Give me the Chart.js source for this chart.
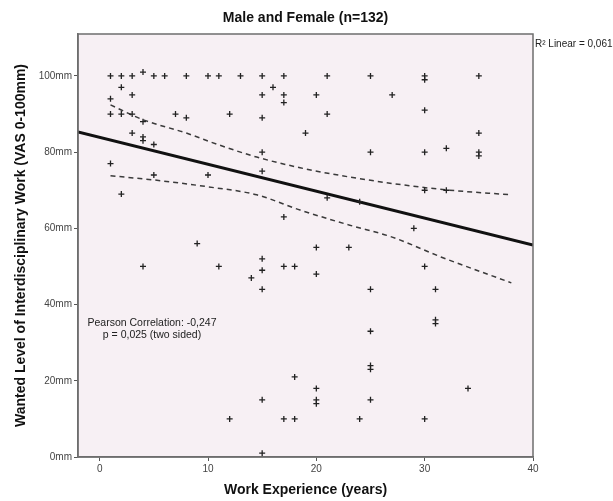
<!DOCTYPE html>
<html lang="en">
<head>
<meta charset="UTF-8">
<title>Male and Female (n=132)</title>
<script src="https://cdn.jsdelivr.net/npm/chart.js"></script>
<style>
  body { margin: 0; background: #fff; }
</style>
</head>
<body>
<canvas id="scatterChart" width="613" height="501"></canvas>
<script>
// observations: work experience (years) vs wanted level (VAS mm)
const expYears = [1, 2, 3, 4, 5, 6, 8, 10, 11, 13, 15, 17, 21, 25, 30, 30, 35,
  2, 3, 1, 1, 2, 3, 4, 7, 8, 12, 3, 4, 4, 5, 1, 5, 10, 2,
  16, 15, 17, 17, 20, 27, 30, 15, 21, 19, 15, 25, 30, 32, 15, 21, 24, 17, 29, 30, 32,
  35, 35, 35,
  4, 9, 11, 14, 12, 15, 15, 15, 17, 18, 20, 20, 23, 25, 25, 25, 25, 25,
  18, 20, 20, 20, 15, 17, 18, 24, 30, 30, 31, 31, 31, 15, 34];
const wantedMm = [100, 100, 100, 101, 100, 100, 100, 100, 100, 100, 100, 100, 100, 100, 100, 99, 100,
  97, 95, 94, 90, 90, 90, 88, 90, 89, 90, 85, 84, 83, 82, 77, 74, 74, 69,
  97, 95, 95, 93, 95, 95, 91, 89, 90, 85, 80, 80, 80, 81, 75, 68, 67, 63, 60, 70, 70,
  85, 80, 79,
  50, 56, 50, 47, 10, 52, 49, 44, 50, 50, 55, 48, 55, 44, 33, 24, 23, 15,
  21, 18, 15, 14, 15, 10, 10, 10, 10, 50, 44, 36, 35, 1, 18];

// fit line and 95% mean confidence band
const fitX = [-2, 40];
const fitY = [85.3, 55.6];
const ciUpperX = [1, 4, 8, 11, 14.5, 18.5, 23, 28, 32, 38];
const ciUpperY = [92.4, 88.5, 85, 81.9, 78.7, 75.9, 73.5, 71.4, 70.1, 68.8];
const ciLowerX = [1, 5, 10, 14.5, 18.5, 23, 27, 31.5, 38];
const ciLowerY = [73.8, 72.7, 70.9, 68.8, 64.8, 60.9, 57.7, 52.5, 45.7];

const xTicks = [0, 10, 20, 30, 40];
const yTicks = [0, 20, 40, 60, 80, 100];

const FONT = "'Liberation Sans', Arial, sans-serif";

function pairs(xs, ys) {
  return xs.map((x, i) => ({x: x, y: ys[i]}));
}

const plotDecor = {
  id: 'plotDecor',
  beforeDraw(chart) {
    const {ctx, chartArea: a} = chart;
    ctx.save();
    ctx.fillStyle = '#f7f0f4';
    ctx.fillRect(a.left, a.top, a.right - a.left, a.bottom - a.top);
    ctx.restore();
  },
  afterDraw(chart) {
    const {ctx, chartArea: a} = chart;
    ctx.save();
    ctx.strokeStyle = '#6e6e6e';
    ctx.lineWidth = 1.5;
    ctx.strokeRect(a.left, a.top, a.right - a.left, a.bottom - a.top);

    ctx.fillStyle = '#111';
    ctx.textAlign = 'center';
    ctx.textBaseline = 'middle';
    ctx.font = 'bold 14px ' + FONT;
    ctx.fillText('Male and Female (n=132)', (a.left + a.right) / 2, 18);

    ctx.fillStyle = '#222';
    ctx.font = '10.5px ' + FONT;
    ctx.fillText('Pearson Correlation: -0,247', 152, 323);
    ctx.fillText('p = 0,025 (two sided)', 152, 335);

    ctx.textAlign = 'left';
    ctx.font = '10px ' + FONT;
    ctx.fillText('R\u00B2 Linear = 0,061', a.right + 2, 44);
    ctx.restore();
  }
};

new Chart(document.getElementById('scatterChart'), {
  type: 'scatter',
  data: {
    datasets: [
      {
        label: 'Observed',
        data: pairs(expYears, wantedMm),
        pointStyle: 'cross',
        pointRadius: 3,
        borderWidth: 1.3,
        borderColor: '#222',
        backgroundColor: '#222'
      },
      {
        label: 'Linear fit',
        data: pairs(fitX, fitY),
        showLine: true,
        pointRadius: 0,
        borderColor: '#111',
        borderWidth: 3
      },
      {
        label: 'Upper 95% CI',
        data: pairs(ciUpperX, ciUpperY),
        showLine: true,
        pointRadius: 0,
        borderColor: '#3a3a3a',
        borderWidth: 1.5,
        borderDash: [5, 4],
        cubicInterpolationMode: 'monotone'
      },
      {
        label: 'Lower 95% CI',
        data: pairs(ciLowerX, ciLowerY),
        showLine: true,
        pointRadius: 0,
        borderColor: '#3a3a3a',
        borderWidth: 1.5,
        borderDash: [5, 4],
        cubicInterpolationMode: 'monotone'
      }
    ]
  },
  options: {
    responsive: false,
    animation: false,
    layout: {padding: {top: 34, right: 80, left: 0, bottom: 0}},
    plugins: {
      legend: {display: false},
      tooltip: {enabled: false}
    },
    scales: {
      x: {
        type: 'linear',
        min: -2,
        max: 40,
        afterBuildTicks: s => { s.ticks = xTicks.map(v => ({value: v})); },
        afterFit: s => { s.height = 44; },
        grid: {drawOnChartArea: false, drawTicks: true, tickLength: 4, color: '#555'},
        border: {display: true, color: '#6e6e6e', width: 1.5},
        ticks: {color: '#444', padding: 2, font: {family: FONT, size: 10}},
        title: {
          display: true,
          text: 'Work Experience (years)',
          color: '#111',
          font: {family: FONT, size: 14, weight: 'bold'},
          padding: {top: 0, bottom: 2.6}
        }
      },
      y: {
        type: 'linear',
        min: 0,
        max: 111,
        afterBuildTicks: s => { s.ticks = yTicks.map(v => ({value: v})); },
        afterFit: s => { s.width = 78; },
        grid: {drawOnChartArea: false, drawTicks: true, tickLength: 4, color: '#555'},
        border: {display: true, color: '#6e6e6e', width: 1.5},
        ticks: {
          color: '#444',
          padding: 2,
          font: {family: FONT, size: 10},
          callback: v => v + 'mm'
        },
        title: {
          display: true,
          text: 'Wanted Level of Interdisciplinary Work (VAS 0-100mm)',
          color: '#111',
          font: {family: FONT, size: 14, weight: 'bold'},
          padding: {top: 12.6, bottom: 0}
        }
      }
    }
  },
  plugins: [plotDecor]
});
</script>
</body>
</html>
